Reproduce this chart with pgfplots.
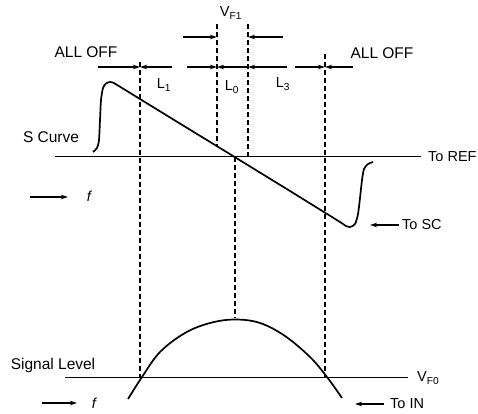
\documentclass[border=0pt]{standalone}
\usepackage{fontspec}
\setmainfont{Liberation Sans}
\usepackage{pgfplots}
\pgfplotsset{compat=1.18}
\usetikzlibrary{arrows.meta}
\begin{document}
\begin{tikzpicture}[
  lbl/.style={font=\fontsize{15.5}{18}\selectfont, inner sep=0pt},
  sml/.style={font=\fontsize{14.5}{16}\selectfont, inner sep=0pt},
  dim/.style={line width=1.2pt, -{Stealth[length=7pt,width=4.5pt]}},
  dsh/.style={line width=1.6pt, dash pattern=on 5pt off 3pt},
  crv/.style={line width=1.7pt},
]
\begin{axis}[
  width=478pt, height=413pt, scale only axis,
  xmin=0, xmax=478, ymin=0, ymax=413, y dir=reverse,
  hide axis, clip=false,
]
\addplot[draw=none, forget plot] coordinates {(0,0) (478,413)};
% reference lines
\addplot[black, line width=1.5pt] coordinates {(55,156.5) (421,156.5)};
\addplot[black, line width=1.5pt] coordinates {(65,377.5) (408,377.5)};
% S curve
\addplot[black, crv, smooth, tension=0.45] coordinates {
 (93,152) (97,148) (99,140) (100,120) (101,100) (103,88) (106,83.5) (110,82)
 (114,83) (118,85.5) (175,120.5) (233,156) (290,191) (340,222) (345,225.5) (350,227)
 (355,224) (358,214) (360,198) (362,180) (364,169) (368,164) (373,162)};
% signal curve
\addplot[black, crv, smooth, tension=0.6] coordinates {
 (128,399) (142,377) (160,352) (185,333) (210,323) (235,319.5)
 (260,323) (285,336) (310,357) (327,377) (342,398)};
% dashed verticals
\addplot[black, dsh] coordinates {(140,62) (140,378)};
\addplot[black, dsh] coordinates {(217,24) (217,147)};
\addplot[black, dsh] coordinates {(248,24) (248,156)};
\addplot[black, dsh] coordinates {(325,54) (325,377)};
\addplot[black, dsh] coordinates {(235,157) (235,318)};
% dimension arrows
\addplot[black, dim] coordinates {(183,37) (217,37)};
\addplot[black, dim] coordinates {(283,37) (248,37)};
\addplot[black, dim] coordinates {(98,67) (140,67)};
\addplot[black, dim] coordinates {(172,67) (140,67)};
\addplot[black, dim] coordinates {(187,67) (217,67)};
\addplot[black, dim] coordinates {(248,67) (217,67)};
\addplot[black, dim] coordinates {(287,67) (248,67)};
\addplot[black, dim] coordinates {(295,67) (325,67)};
\addplot[black, dim] coordinates {(353,67) (325,67)};
% f arrows and pointer arrows
\addplot[black, dim, line width=1.4pt] coordinates {(30,197) (68,197)};
\addplot[black, dim, line width=1.4pt] coordinates {(42,403) (77,403)};
\addplot[black, dim, line width=1.4pt] coordinates {(399,225) (370,225)};
\addplot[black, dim, line width=1.4pt] coordinates {(384,404) (355,404)};
% labels
\node[lbl] at (axis cs:86,52) {ALL OFF};
\node[lbl] at (axis cs:382,53) {ALL OFF};
\node[lbl] at (axis cs:51,137) {S Curve};
\node[lbl] at (axis cs:53,365) {Signal Level};
\node[sml, anchor=west] at (axis cs:428,156.5) {To REF};
\node[sml, anchor=west] at (axis cs:402,225) {To SC};
\node[sml, anchor=west] at (axis cs:390,404) {To IN};
\node[sml, anchor=west] at (axis cs:417,378) {V\textsubscript{F0}};
\node[sml] at (axis cs:231,13) {V\textsubscript{F1}};
\node[sml] at (axis cs:164,85) {L\textsubscript{1}};
\node[sml] at (axis cs:232,87) {L\textsubscript{0}};
\node[sml] at (axis cs:283,84) {L\textsubscript{3}};
\node[sml] at (axis cs:89,196) {\itshape f};
\node[sml] at (axis cs:94,403) {\itshape f};
\end{axis}
\end{tikzpicture}
\end{document}
